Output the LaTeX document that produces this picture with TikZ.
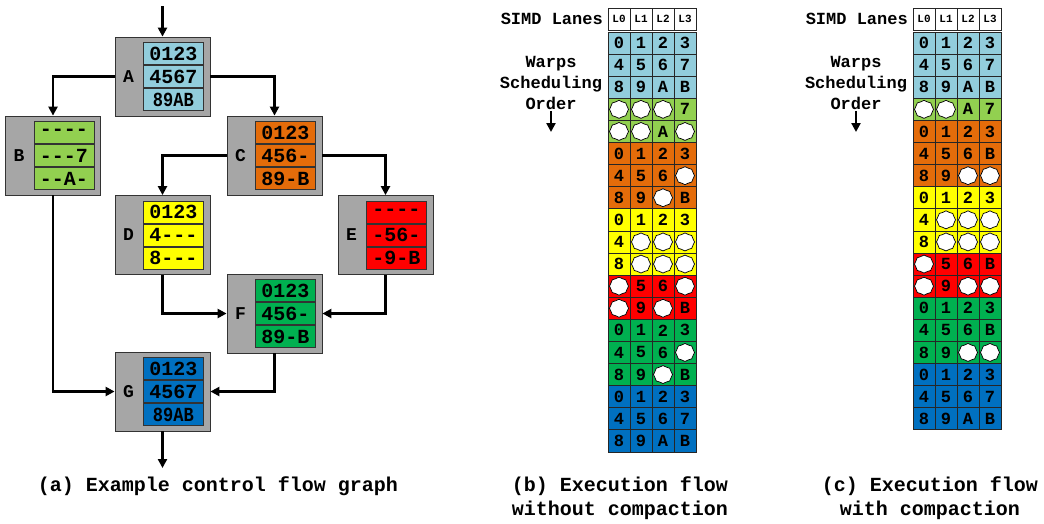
\documentclass[tikz,border=0pt]{standalone}
\usepackage{fontspec}
\setmonofont{Liberation Mono}
\usepackage{graphicx}
\usetikzlibrary{arrows.meta,shapes.symbols}

\definecolor{wBlue}{RGB}{146,205,220}
\definecolor{wLime}{RGB}{146,208,80}
\definecolor{wOrange}{RGB}{228,108,10}
\definecolor{wYellow}{RGB}{255,255,0}
\definecolor{wRed}{RGB}{255,0,0}
\definecolor{wGreen}{RGB}{0,176,80}
\definecolor{wNavy}{RGB}{0,112,192}
\definecolor{bbGray}{RGB}{166,166,166}

\tikzset{
	bblock/.style={draw=black!80, fill=bbGray, minimum width=95pt, minimum height=79pt, inner sep=0pt, line width=0.8pt},
	mrow/.style={draw=black!80, minimum width=60pt, minimum height=22.3pt, inner sep=0pt, line width=0.7pt, font=\ttfamily\bfseries\fontsize{20}{20}\selectfont},
	blabel/.style={inner sep=0pt, font=\ttfamily\bfseries\fontsize{18}{18}\selectfont},
	flow/.style={line width=2.5pt, -{Triangle[length=9pt,width=9pt]}},
	lane/.style={draw=black!85, minimum width=22pt, minimum height=22.1pt, inner sep=0pt, line width=0.7pt, font=\ttfamily\bfseries\fontsize{17}{17}\selectfont},
	lanehead/.style={lane, fill=white, font=\ttfamily\bfseries\fontsize{11}{11}\selectfont},
	idle/.style={cloud, cloud puffs=8, cloud puff arc=100, draw=black, fill=white, line width=0.7pt, minimum width=19pt, minimum height=18pt, inner sep=0pt},
	note/.style={inner sep=1pt, align=center, font=\ttfamily\bfseries\fontsize{17}{21}\selectfont},
	caption/.style={align=center, font=\ttfamily\bfseries\fontsize{20}{24}\selectfont},
}

% block of the control flow graph: name, centre, colour, three rows
\newcommand\cfgblock[6]{%
	\node[bblock] (#1) at (#2) {};
	\node[blabel] (#1l) at ([xshift=14pt]#1.west) {#1};
	\node[mrow, fill=#3] (#1r2) at ([xshift=-37pt]#1.east) {#5};
	\node[mrow, fill=#3, anchor=south] (#1r1) at (#1r2.north) {#4};
	\node[mrow, fill=#3, anchor=north] (#1r3) at (#1r2.south) {#6};
}

% lanes of the warps: left edge, top edge, rows, name prefix
\def\idlemark{x}
\newcommand\lanegrid[4]{%
	\foreach \lbl [count=\cw from 0] in {L0,L1,L2,L3}
		\node[lanehead] (#4h\cw) at (#1+11+22*\cw,#2-13) {\lbl};
	\foreach \col/\cells [count=\rw from 0] in {#3} {
		\foreach \lv [count=\cw from 0] in \cells {
			\edef\tmp{\lv}
			\ifx\tmp\idlemark
				\node[lane, fill=\col] (#4\rw-\cw) at (#1+11+22*\cw,#2+11.05+22.1*\rw) {};
				\node[idle] (#4\rw-\cw i) at (#4\rw-\cw) {};
			\else
				\node[lane, fill=\col] (#4\rw-\cw) at (#1+11+22*\cw,#2+11.05+22.1*\rw) {\lv};
			\fi
		}
	}
}

\begin{document}
\begin{tikzpicture}[x=1pt,y=-1pt]
	%%%%% START %%%%%
	\useasboundingbox (0,0) rectangle (1044,523);
	
	% (a) control flow graph
	\cfgblock{A}{162.5,76.5}{wBlue}{0123}{4567}{\scalebox{0.85}[1]{89AB}}
	\cfgblock{B}{53,155.5}{wLime}{----}{---7}{--A-}
	\cfgblock{C}{274.5,155.5}{wOrange}{0123}{456-}{89-B}
	\cfgblock{D}{162.5,235}{wYellow}{0123}{4---}{8---}
	\cfgblock{E}{385.5,235}{wRed}{----}{-56-}{-9-B}
	\cfgblock{F}{274.5,313.5}{wGreen}{0123}{456-}{89-B}
	\cfgblock{G}{162.5,391.5}{wNavy}{0123}{4567}{\scalebox{0.85}[1]{89AB}}
	
	\coordinate (entry) at (162.5,6);
	\coordinate (exit) at (162.5,468);
	\draw[flow] (entry) -- (A.north);
	\draw[flow] (A.west) -| (B.north);
	\draw[flow] (A.east) -| (C.north);
	\draw[flow] (C.west) -| (D.north);
	\draw[flow] (C.east) -| (E.north);
	\draw[flow] (D.south) |- (F.west);
	\draw[flow] (E.south) |- (F.east);
	\draw[flow] (B.south) |- (G.west);
	\draw[flow] (F.south) |- (G.east);
	\draw[flow] (G.south) -- (exit);
	
	% (b) without compaction
	\lanegrid{608}{32}{wBlue/{0,1,2,3}, wBlue/{4,5,6,7}, wBlue/{8,9,A,B},
		wLime/{x,x,x,7}, wLime/{x,x,A,x},
		wOrange/{0,1,2,3}, wOrange/{4,5,6,x}, wOrange/{8,9,x,B},
		wYellow/{0,1,2,3}, wYellow/{4,x,x,x}, wYellow/{8,x,x,x},
		wRed/{x,5,6,x}, wRed/{x,9,x,B},
		wGreen/{0,1,2,3}, wGreen/{4,5,6,x}, wGreen/{8,9,x,B},
		wNavy/{0,1,2,3}, wNavy/{4,5,6,7}, wNavy/{8,9,A,B}}{b}
	\node[note, anchor=east] (bLanes) at (604,19) {SIMD Lanes};
	\node[note] (bOrder) at (551,83) {Warps\\Scheduling\\Order};
	\coordinate (bDown) at (551,132);
	\draw[flow] (bOrder.south) -- (bDown);
	
	% (c) with compaction
	\lanegrid{913}{32}{wBlue/{0,1,2,3}, wBlue/{4,5,6,7}, wBlue/{8,9,A,B},
		wLime/{x,x,A,7},
		wOrange/{0,1,2,3}, wOrange/{4,5,6,B}, wOrange/{8,9,x,x},
		wYellow/{0,1,2,3}, wYellow/{4,x,x,x}, wYellow/{8,x,x,x},
		wRed/{x,5,6,B}, wRed/{x,9,x,x},
		wGreen/{0,1,2,3}, wGreen/{4,5,6,B}, wGreen/{8,9,x,x},
		wNavy/{0,1,2,3}, wNavy/{4,5,6,7}, wNavy/{8,9,A,B}}{c}
	\node[note, anchor=east] (cLanes) at (909,19) {SIMD Lanes};
	\node[note] (cOrder) at (856,83) {Warps\\Scheduling\\Order};
	\coordinate (cDown) at (856,132);
	\draw[flow] (cOrder.south) -- (cDown);
	
	% captions
	\node[caption] (capA) at (218,486) {(a) Example control flow graph};
	\node[caption] (capB) at (620,498) {(b) Execution flow\\without compaction};
	\node[caption] (capC) at (930,498) {(c) Execution flow\\with compaction};
	
	%%%%% END %%%%%
\end{tikzpicture}
\end{document}
